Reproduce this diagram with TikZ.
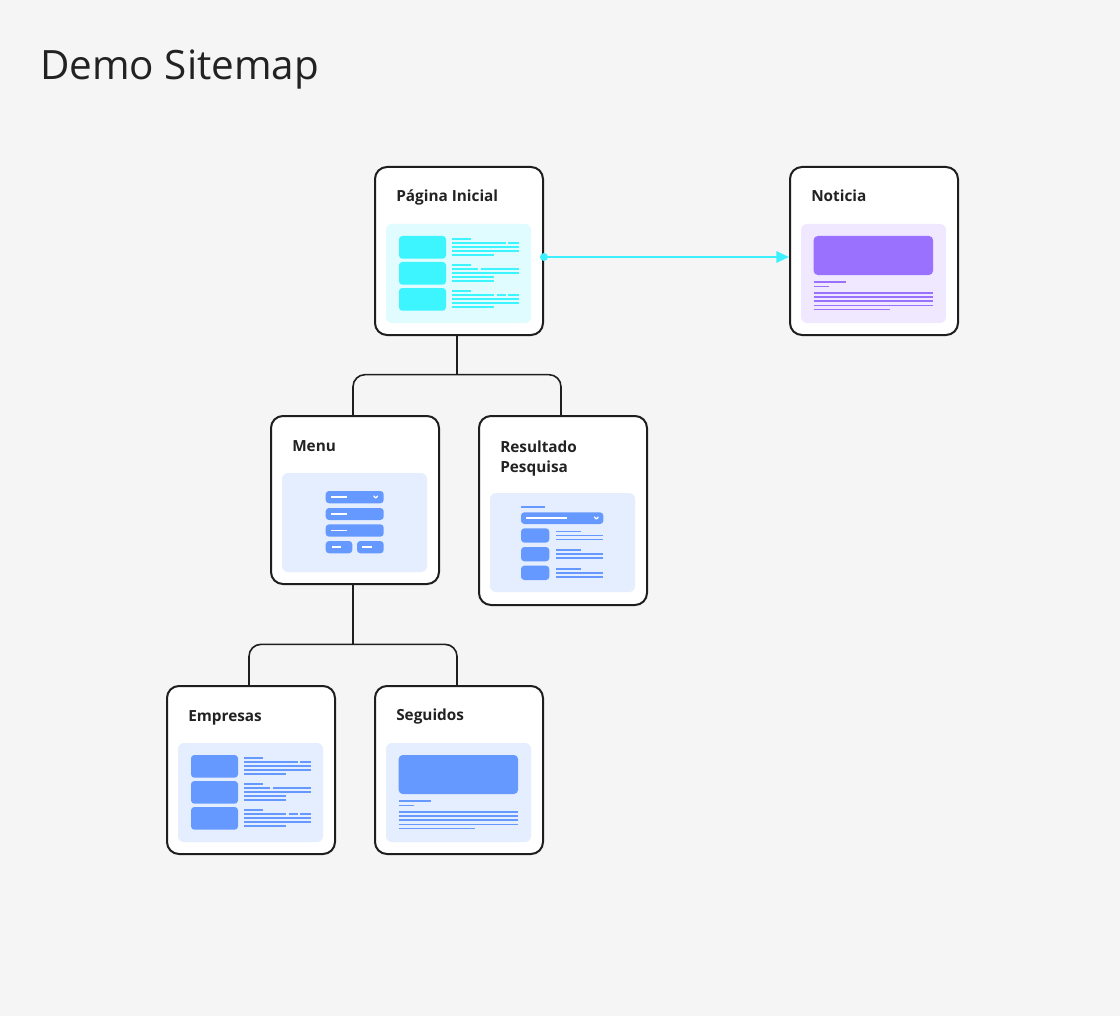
\documentclass[tikz,border=0pt]{standalone}
\usepackage{fontspec}
\setmainfont{Open Sans}
\usetikzlibrary{arrows.meta}
\definecolor{bg}{HTML}{F5F5F5}
\definecolor{cardline}{HTML}{1E1E1E}
\definecolor{txt}{HTML}{222222}
\definecolor{cyanel}{HTML}{3DF5FF}
\definecolor{cyanpanel}{HTML}{E0FCFF}
\definecolor{purpleel}{HTML}{9A70FF}
\definecolor{purplepanel}{HTML}{F0E8FF}
\definecolor{blueel}{HTML}{6699FF}
\definecolor{bluepanel}{HTML}{E5EEFF}
\definecolor{arrowc}{HTML}{3DF0FF}
\tikzset{
  card/.style={draw=cardline, line width=1.5pt, fill=white, rounded corners=9pt,
    minimum width=126pt, minimum height=126pt, inner sep=0pt, anchor=north west},
  cardtitle/.style={font=\fontsize{11.5}{15}\selectfont\bfseries, text=txt, anchor=base west, inner sep=0pt, align=left},
  conn/.style={draw=cardline, line width=1.2pt, rounded corners=9pt},
  link/.style={draw=arrowc, line width=1.5pt, -{Triangle[length=9.5pt,width=8.5pt]}},
}
\newcommand\wl[3]{\draw[draw=wc, line width=1.2pt] (#2,#1) -- (#3,#1);}
\newcommand\wpanel[1]{\fill[#1, rounded corners=4.5pt] (12,58) rectangle (157,157);}
\newcommand\listwire{%
  \foreach \t in {70,96,122} \fill[wc, rounded corners=2.5pt] (25,\t) rectangle (72,{\t+22.7});
  \wl{73}{78}{97}
  \wl{77}{78}{132}\wl{77}{134}{144.5}
  \wl{81}{78}{144.5}
  \wl{85}{78}{144.5}
  \wl{89}{78}{120}
  \wl{99}{78}{97}
  \wl{103}{78}{104}\wl{103}{107}{144.5}
  \wl{107}{78}{144.5}
  \wl{111}{78}{120}
  \wl{115}{78}{120}
  \wl{125}{78}{97}
  \wl{129}{78}{120}\wl{129}{123}{132}\wl{129}{134}{144.5}
  \wl{133}{78}{144.5}
  \wl{137}{78}{144.5}
  \wl{141}{78}{120}
}
\newcommand\articlewire{%
  \fill[wc, rounded corners=3pt] (24.7,70) rectangle (144,109);
  \wl{116}{24.7}{57}
  \wl{120.5}{24.7}{40.3}
  \wl{126.7}{24.7}{144}
  \wl{130.9}{24.7}{144}
  \wl{135.1}{24.7}{144}
  \wl{139.3}{24.7}{144}
  \wl{143.5}{24.7}{100.7}
}
\newcommand\chev[2]{\draw[white, line width=1pt, line cap=round, line join=round] ({#1-1.8},{#2-1}) -- (#1,{#2+0.8}) -- ({#1+1.8},{#2-1});}
\begin{document}
\begin{tikzpicture}[x=0.75pt, y=-0.75pt]
\useasboundingbox (0,0) rectangle (1120,1016);
\fill[bg] (0,0) rectangle (1120,1016);

\node[anchor=base west, inner sep=0pt, text=txt, font=\fontsize{30.3}{35}\selectfont] (title) at (40,80) {Demo Sitemap};

% cards
\node[card] (pagina) at (374,166) {};
\node[card] (noticia) at (789,166) {};
\node[card] (menu) at (270,415) {};
\node[card, minimum height=141.75pt] (result) at (478,415) {};
\node[card] (empresas) at (166,685) {};
\node[card] (seguidos) at (374,685) {};

% titles
\node[cardtitle] (tpagina) at (396,202) {Página Inicial};
\node[cardtitle] (tnoticia) at (811,202) {Noticia};
\node[cardtitle] (tmenu) at (292,451) {Menu};
\node[cardtitle] (tresult1) at (500,452) {Resultado};
\node[cardtitle] (tresult2) at (500,472) {Pesquisa};
\node[cardtitle] (tempresas) at (188,721) {Empresas};
\node[cardtitle] (tseguidos) at (396,720) {Seguidos};

% Pagina Inicial wireframe
\begin{scope}[shift={(374,166)}]
  \colorlet{wc}{cyanel}
  \wpanel{cyanpanel}
  \listwire
\end{scope}

% Empresas wireframe
\begin{scope}[shift={(166,685)}]
  \colorlet{wc}{blueel}
  \wpanel{bluepanel}
  \listwire
\end{scope}

% Noticia wireframe
\begin{scope}[shift={(789,166)}]
  \colorlet{wc}{purpleel}
  \wpanel{purplepanel}
  \articlewire
\end{scope}

% Seguidos wireframe
\begin{scope}[shift={(374,685)}]
  \colorlet{wc}{blueel}
  \wpanel{bluepanel}
  \articlewire
\end{scope}

% Menu wireframe
\begin{scope}[shift={(270,415)}]
  \colorlet{wc}{blueel}
  \wpanel{bluepanel}
  \fill[wc, rounded corners=2.5pt] (55.7,76) rectangle (113.7,88.3);
  \fill[wc, rounded corners=2.5pt] (55.7,93) rectangle (113.7,105);
  \fill[wc, rounded corners=2.5pt] (55.7,109.3) rectangle (113.7,121.7);
  \fill[wc, rounded corners=2.5pt] (55.7,126) rectangle (82.3,138.3);
  \fill[wc, rounded corners=2.5pt] (87,126) rectangle (113.7,138.3);
  \draw[white, line width=1.1pt] (61,82.2) -- (77,82.2);
  \draw[white, line width=1.1pt] (61,99) -- (77,99);
  \draw[white, line width=1.1pt] (61,115.5) -- (77,115.5);
  \draw[white, line width=1.1pt] (61.7,132.2) -- (71,132.2);
  \draw[white, line width=1.1pt] (92.3,132.2) -- (102.3,132.2);
  \chev{105.7}{82.2}
\end{scope}

% Resultado Pesquisa wireframe
\begin{scope}[shift={(478,415)}]
  \colorlet{wc}{blueel}
  \fill[bluepanel, rounded corners=4.5pt] (12,78) rectangle (157,177);
  \wl{91.7}{43}{67}
  \fill[wc, rounded corners=2.5pt] (43,97.3) rectangle (125.3,109);
  \draw[white, line width=1.1pt] (48.3,103.2) -- (89,103.2);
  \chev{118.3}{103.2}
  \foreach \t in {113.3,132,150.7} {
    \fill[wc, rounded corners=2.5pt] (43,\t) rectangle (71.3,{\t+14.3});
    \draw[wc, line width=1.2pt] (78,{\t+3}) -- (102.7,{\t+3});
    \draw[wc, line width=1.2pt] (78,{\t+7}) -- (125.3,{\t+7});
    \draw[wc, line width=1.2pt] (78,{\t+11.2}) -- (125.3,{\t+11.2});
  }
\end{scope}

% connectors
\coordinate (p1) at ([xshift=-1.5pt]pagina.south);
\coordinate (j1) at ([yshift=-29pt]p1);
\coordinate (m1) at ([xshift=-1.5pt]menu.north);
\coordinate (r1) at ([xshift=-1.5pt]result.north);
\coordinate (m2) at ([xshift=-1.5pt]menu.south);
\coordinate (j2) at ([yshift=-44.5pt]m2);
\coordinate (e1) at ([xshift=-1.5pt]empresas.north);
\coordinate (s1) at ([xshift=-1.5pt]seguidos.north);
\draw[conn] (p1) -- (j1);
\draw[conn] (m1) |- (j1) -| (r1);
\draw[conn] (m2) -- (j2);
\draw[conn] (e1) |- (j2) -| (s1);

% link arrow
\coordinate (astart) at ([yshift=-4.5pt]pagina.east);
\coordinate (aend) at ([yshift=-4.5pt]noticia.west);
\draw[link] (astart) -- (aend);
\fill[arrowc] (astart) circle (3pt);
\end{tikzpicture}
\end{document}
